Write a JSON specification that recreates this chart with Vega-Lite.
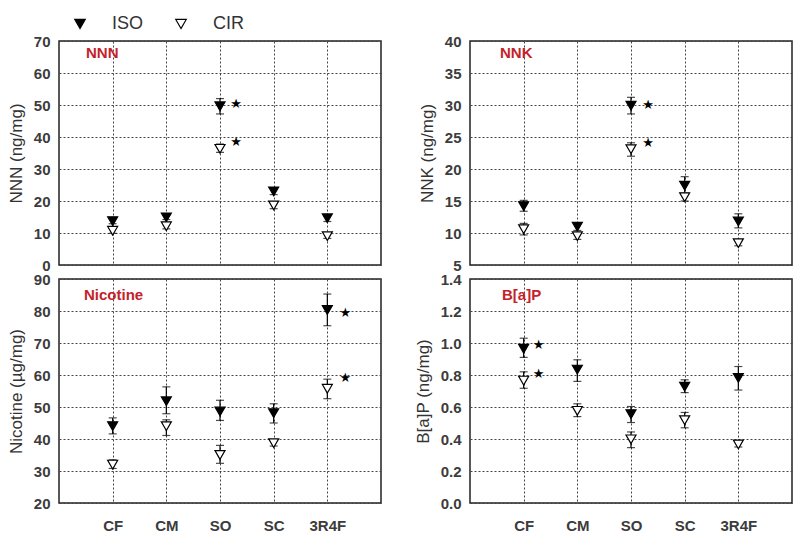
{
  "$schema": "https://vega.github.io/schema/vega-lite/v6.json",
  "padding": {"left": 6, "top": 15, "right": 3, "bottom": 5},
  "background": "white",
  "datasets": {
    "d": [
      {"panel": "NNN", "cat": "CF", "series": "ISO", "v": 13.7, "lo": 12.9, "hi": 14.5, "sy": null},
      {"panel": "NNN", "cat": "CF", "series": "CIR", "v": 10.7, "lo": 9.9, "hi": 11.5, "sy": null},
      {"panel": "NNN", "cat": "CM", "series": "ISO", "v": 14.9, "lo": 14.2, "hi": 15.6, "sy": null},
      {"panel": "NNN", "cat": "CM", "series": "CIR", "v": 12.1, "lo": 11.3, "hi": 13.0, "sy": null},
      {"panel": "NNN", "cat": "SO", "series": "ISO", "v": 49.6, "lo": 47.2, "hi": 52.0, "sy": 50.4},
      {"panel": "NNN", "cat": "SO", "series": "CIR", "v": 36.3, "lo": 35.2, "hi": 37.8, "sy": 38.3},
      {"panel": "NNN", "cat": "SC", "series": "ISO", "v": 23.0, "lo": 22.0, "hi": 24.0, "sy": null},
      {"panel": "NNN", "cat": "SC", "series": "CIR", "v": 18.6, "lo": 17.6, "hi": 19.7, "sy": null},
      {"panel": "NNN", "cat": "3R4F", "series": "ISO", "v": 14.6, "lo": 13.6, "hi": 15.6, "sy": null},
      {"panel": "NNN", "cat": "3R4F", "series": "CIR", "v": 9.0, "lo": 8.3, "hi": 9.8, "sy": null},
      {"panel": "NNK", "cat": "CF", "series": "ISO", "v": 14.2, "lo": 13.4, "hi": 15.1, "sy": null},
      {"panel": "NNK", "cat": "CF", "series": "CIR", "v": 10.6, "lo": 9.7, "hi": 11.5, "sy": null},
      {"panel": "NNK", "cat": "CM", "series": "ISO", "v": 11.0, "lo": 10.4, "hi": 11.6, "sy": null},
      {"panel": "NNK", "cat": "CM", "series": "CIR", "v": 9.5, "lo": 9.0, "hi": 10.0, "sy": null},
      {"panel": "NNK", "cat": "SO", "series": "ISO", "v": 29.9, "lo": 28.6, "hi": 31.2, "sy": 30.0},
      {"panel": "NNK", "cat": "SO", "series": "CIR", "v": 23.1, "lo": 22.0, "hi": 24.1, "sy": 24.0},
      {"panel": "NNK", "cat": "SC", "series": "ISO", "v": 17.4, "lo": 16.2, "hi": 18.8, "sy": null},
      {"panel": "NNK", "cat": "SC", "series": "CIR", "v": 15.6, "lo": 15.0, "hi": 16.2, "sy": null},
      {"panel": "NNK", "cat": "3R4F", "series": "ISO", "v": 11.8, "lo": 10.8, "hi": 13.0, "sy": null},
      {"panel": "NNK", "cat": "3R4F", "series": "CIR", "v": 8.4, "lo": 8.0, "hi": 8.8, "sy": null},
      {"panel": "Nicotine", "cat": "CF", "series": "ISO", "v": 44.0, "lo": 41.6, "hi": 46.6, "sy": null},
      {"panel": "Nicotine", "cat": "CF", "series": "CIR", "v": 32.0, "lo": 30.8, "hi": 33.5, "sy": null},
      {"panel": "Nicotine", "cat": "CM", "series": "ISO", "v": 51.8, "lo": 47.9, "hi": 56.3, "sy": null},
      {"panel": "Nicotine", "cat": "CM", "series": "CIR", "v": 44.0, "lo": 41.1, "hi": 46.0, "sy": null},
      {"panel": "Nicotine", "cat": "SO", "series": "ISO", "v": 48.6, "lo": 45.8, "hi": 52.1, "sy": null},
      {"panel": "Nicotine", "cat": "SO", "series": "CIR", "v": 35.0, "lo": 32.4, "hi": 38.0, "sy": null},
      {"panel": "Nicotine", "cat": "SC", "series": "ISO", "v": 48.1, "lo": 45.0, "hi": 51.0, "sy": null},
      {"panel": "Nicotine", "cat": "SC", "series": "CIR", "v": 38.7, "lo": 37.8, "hi": 39.6, "sy": null},
      {"panel": "Nicotine", "cat": "3R4F", "series": "ISO", "v": 80.3, "lo": 75.4, "hi": 85.3, "sy": 79.5},
      {"panel": "Nicotine", "cat": "3R4F", "series": "CIR", "v": 55.7, "lo": 52.6, "hi": 58.7, "sy": 59.0},
      {"panel": "B[a]P", "cat": "CF", "series": "ISO", "v": 0.964, "lo": 0.91, "hi": 1.03, "sy": 0.99},
      {"panel": "B[a]P", "cat": "CF", "series": "CIR", "v": 0.765, "lo": 0.717, "hi": 0.82, "sy": 0.805},
      {"panel": "B[a]P", "cat": "CM", "series": "ISO", "v": 0.834, "lo": 0.76, "hi": 0.895, "sy": null},
      {"panel": "B[a]P", "cat": "CM", "series": "CIR", "v": 0.576, "lo": 0.54, "hi": 0.62, "sy": null},
      {"panel": "B[a]P", "cat": "SO", "series": "ISO", "v": 0.555, "lo": 0.503, "hi": 0.603, "sy": null},
      {"panel": "B[a]P", "cat": "SO", "series": "CIR", "v": 0.398, "lo": 0.346, "hi": 0.444, "sy": null},
      {"panel": "B[a]P", "cat": "SC", "series": "ISO", "v": 0.727, "lo": 0.69, "hi": 0.77, "sy": null},
      {"panel": "B[a]P", "cat": "SC", "series": "CIR", "v": 0.518, "lo": 0.47, "hi": 0.566, "sy": null},
      {"panel": "B[a]P", "cat": "3R4F", "series": "ISO", "v": 0.782, "lo": 0.706, "hi": 0.853, "sy": null},
      {"panel": "B[a]P", "cat": "3R4F", "series": "CIR", "v": 0.366, "lo": 0.35, "hi": 0.387, "sy": null}
    ]
  },
  "data": {"name": "d"},
  "columns": 2,
  "spacing": {"row": -3, "column": 31},
  "concat": [
    {
      "width": 322, "height": 224,
      "title": {"text": "NNN", "anchor": "start", "frame": "group", "orient": "top", "offset": -27, "dx": 27},
      "transform": [{"filter": "datum.panel === 'NNN'"}],
      "encoding": {"x": {"field": "cat", "type": "ordinal", "sort": ["CF", "CM", "SO", "SC", "3R4F"], "scale": {"type": "point", "padding": 1}, "axis": {"title": null, "labels": false, "ticks": false}}},
      "layer": [
        {"mark": {"type": "rule", "color": "black", "strokeWidth": 1.2}, "encoding": {"y": {"field": "lo", "type": "quantitative", "scale": {"domain": [0, 70], "nice": false}, "axis": {"title": "NNN (ng/mg)", "values": [0, 10, 20, 30, 40, 50, 60, 70], "labelOverlap": false}}, "y2": {"field": "hi"}}},
        {"mark": {"type": "tick", "color": "black", "size": 8, "thickness": 1.2}, "encoding": {"y": {"field": "hi", "type": "quantitative", "axis": {"title": "NNN (ng/mg)", "values": [0, 10, 20, 30, 40, 50, 60, 70], "labelOverlap": false}}}},
        {"mark": {"type": "tick", "color": "black", "size": 8, "thickness": 1.2}, "encoding": {"y": {"field": "lo", "type": "quantitative", "axis": {"title": "NNN (ng/mg)", "values": [0, 10, 20, 30, 40, 50, 60, 70], "labelOverlap": false}}}},
        {"mark": {"type": "point", "shape": "triangle-down", "size": 100, "filled": true, "stroke": "black", "strokeWidth": 1.2, "opacity": 1}, "encoding": {"y": {"field": "v", "type": "quantitative", "axis": {"title": "NNN (ng/mg)", "values": [0, 10, 20, 30, 40, 50, 60, 70], "labelOverlap": false}}, "fill": {"field": "series", "type": "nominal", "scale": {"domain": ["ISO", "CIR"], "range": ["black", "white"]}, "legend": {"title": null, "orient": "none", "legendX": 12, "legendY": -26, "direction": "horizontal", "symbolType": "triangle-down", "symbolStrokeColor": "black", "symbolStrokeWidth": 1.2, "symbolSize": 110, "labelFontSize": 18, "labelFont": "Liberation Sans", "labelColor": "#333", "columnPadding": 28, "labelOffset": 23}}}},
        {"transform": [{"filter": "datum.sy != null"}], "mark": {"type": "text", "text": "★", "dx": 16, "fontSize": 13, "color": "black", "font": "DejaVu Sans"}, "encoding": {"y": {"field": "sy", "type": "quantitative", "axis": {"title": "NNN (ng/mg)", "values": [0, 10, 20, 30, 40, 50, 60, 70], "labelOverlap": false}}}}
      ]
    },
    {
      "width": 322, "height": 224,
      "title": {"text": "NNK", "anchor": "start", "frame": "group", "orient": "top", "offset": -27, "dx": 30},
      "transform": [{"filter": "datum.panel === 'NNK'"}],
      "encoding": {"x": {"field": "cat", "type": "ordinal", "sort": ["CF", "CM", "SO", "SC", "3R4F"], "scale": {"type": "point", "padding": 1}, "axis": {"title": null, "labels": false, "ticks": false}}},
      "layer": [
        {"mark": {"type": "rule", "color": "black", "strokeWidth": 1.2}, "encoding": {"y": {"field": "lo", "type": "quantitative", "scale": {"domain": [5, 40], "nice": false}, "axis": {"title": "NNK (ng/mg)", "values": [5, 10, 15, 20, 25, 30, 35, 40], "labelOverlap": false}}, "y2": {"field": "hi"}}},
        {"mark": {"type": "tick", "color": "black", "size": 8, "thickness": 1.2}, "encoding": {"y": {"field": "hi", "type": "quantitative", "axis": {"title": "NNK (ng/mg)", "values": [5, 10, 15, 20, 25, 30, 35, 40], "labelOverlap": false}}}},
        {"mark": {"type": "tick", "color": "black", "size": 8, "thickness": 1.2}, "encoding": {"y": {"field": "lo", "type": "quantitative", "axis": {"title": "NNK (ng/mg)", "values": [5, 10, 15, 20, 25, 30, 35, 40], "labelOverlap": false}}}},
        {"mark": {"type": "point", "shape": "triangle-down", "size": 100, "filled": true, "stroke": "black", "strokeWidth": 1.2, "opacity": 1}, "encoding": {"y": {"field": "v", "type": "quantitative", "axis": {"title": "NNK (ng/mg)", "values": [5, 10, 15, 20, 25, 30, 35, 40], "labelOverlap": false}}, "fill": {"field": "series", "type": "nominal", "scale": {"domain": ["ISO", "CIR"], "range": ["black", "white"]}}}},
        {"transform": [{"filter": "datum.sy != null"}], "mark": {"type": "text", "text": "★", "dx": 17, "fontSize": 13, "color": "black", "font": "DejaVu Sans"}, "encoding": {"y": {"field": "sy", "type": "quantitative", "axis": {"title": "NNK (ng/mg)", "values": [5, 10, 15, 20, 25, 30, 35, 40], "labelOverlap": false}}}}
      ]
    },
    {
      "width": 322, "height": 224,
      "title": {"text": "Nicotine", "anchor": "start", "frame": "group", "orient": "top", "offset": -31, "dx": 25},
      "transform": [{"filter": "datum.panel === 'Nicotine'"}],
      "encoding": {"x": {"field": "cat", "type": "ordinal", "sort": ["CF", "CM", "SO", "SC", "3R4F"], "scale": {"type": "point", "padding": 1}, "axis": {"title": null, "labelAngle": 0, "labelPadding": 15, "ticks": false}}},
      "layer": [
        {"mark": {"type": "rule", "color": "black", "strokeWidth": 1.2}, "encoding": {"y": {"field": "lo", "type": "quantitative", "scale": {"domain": [20, 90], "nice": false}, "axis": {"title": "Nicotine (µg/mg)", "values": [20, 30, 40, 50, 60, 70, 80, 90], "labelOverlap": false}}, "y2": {"field": "hi"}}},
        {"mark": {"type": "tick", "color": "black", "size": 8, "thickness": 1.2}, "encoding": {"y": {"field": "hi", "type": "quantitative", "axis": {"title": "Nicotine (µg/mg)", "values": [20, 30, 40, 50, 60, 70, 80, 90], "labelOverlap": false}}}},
        {"mark": {"type": "tick", "color": "black", "size": 8, "thickness": 1.2}, "encoding": {"y": {"field": "lo", "type": "quantitative", "axis": {"title": "Nicotine (µg/mg)", "values": [20, 30, 40, 50, 60, 70, 80, 90], "labelOverlap": false}}}},
        {"mark": {"type": "point", "shape": "triangle-down", "size": 100, "filled": true, "stroke": "black", "strokeWidth": 1.2, "opacity": 1}, "encoding": {"y": {"field": "v", "type": "quantitative", "axis": {"title": "Nicotine (µg/mg)", "values": [20, 30, 40, 50, 60, 70, 80, 90], "labelOverlap": false}}, "fill": {"field": "series", "type": "nominal", "scale": {"domain": ["ISO", "CIR"], "range": ["black", "white"]}}}},
        {"transform": [{"filter": "datum.sy != null"}], "mark": {"type": "text", "text": "★", "dx": 18, "fontSize": 13, "color": "black", "font": "DejaVu Sans"}, "encoding": {"y": {"field": "sy", "type": "quantitative", "axis": {"title": "Nicotine (µg/mg)", "values": [20, 30, 40, 50, 60, 70, 80, 90], "labelOverlap": false}}}}
      ]
    },
    {
      "width": 322, "height": 224,
      "title": {"text": "B[a]P", "anchor": "start", "frame": "group", "orient": "top", "offset": -31, "dx": 32},
      "transform": [{"filter": "datum.panel === 'B[a]P'"}],
      "encoding": {"x": {"field": "cat", "type": "ordinal", "sort": ["CF", "CM", "SO", "SC", "3R4F"], "scale": {"type": "point", "padding": 1}, "axis": {"title": null, "labelAngle": 0, "labelPadding": 15, "ticks": false}}},
      "layer": [
        {"mark": {"type": "rule", "color": "black", "strokeWidth": 1.2}, "encoding": {"y": {"field": "lo", "type": "quantitative", "scale": {"domain": [0, 1.4], "nice": false}, "axis": {"title": "B[a]P (ng/mg)", "format": ".1f", "values": [0, 0.2, 0.4, 0.6, 0.8, 1.0, 1.2, 1.4], "labelOverlap": false}}, "y2": {"field": "hi"}}},
        {"mark": {"type": "tick", "color": "black", "size": 8, "thickness": 1.2}, "encoding": {"y": {"field": "hi", "type": "quantitative", "axis": {"title": "B[a]P (ng/mg)", "format": ".1f", "values": [0, 0.2, 0.4, 0.6, 0.8, 1.0, 1.2, 1.4], "labelOverlap": false}}}},
        {"mark": {"type": "tick", "color": "black", "size": 8, "thickness": 1.2}, "encoding": {"y": {"field": "lo", "type": "quantitative", "axis": {"title": "B[a]P (ng/mg)", "format": ".1f", "values": [0, 0.2, 0.4, 0.6, 0.8, 1.0, 1.2, 1.4], "labelOverlap": false}}}},
        {"mark": {"type": "point", "shape": "triangle-down", "size": 100, "filled": true, "stroke": "black", "strokeWidth": 1.2, "opacity": 1}, "encoding": {"y": {"field": "v", "type": "quantitative", "axis": {"title": "B[a]P (ng/mg)", "format": ".1f", "values": [0, 0.2, 0.4, 0.6, 0.8, 1.0, 1.2, 1.4], "labelOverlap": false}}, "fill": {"field": "series", "type": "nominal", "scale": {"domain": ["ISO", "CIR"], "range": ["black", "white"]}}}},
        {"transform": [{"filter": "datum.sy != null"}], "mark": {"type": "text", "text": "★", "dx": 15, "fontSize": 13, "color": "black", "font": "DejaVu Sans"}, "encoding": {"y": {"field": "sy", "type": "quantitative", "axis": {"title": "B[a]P (ng/mg)", "format": ".1f", "values": [0, 0.2, 0.4, 0.6, 0.8, 1.0, 1.2, 1.4], "labelOverlap": false}}}}
      ]
    }
  ],
  "config": {
    "font": "Liberation Sans",
    "view": {"stroke": "#222", "strokeWidth": 1.5},
    "title": {"color": "#c42229", "fontSize": 15, "fontWeight": "bold", "font": "Liberation Sans"},
    "axis": {
      "grid": true,
      "gridColor": "#444",
      "gridDash": [2, 2],
      "gridWidth": 1,
      "domain": false,
      "ticks": false,
      "labelOverlap": false,
      "labelFlush": false,
      "labelFont": "Liberation Sans",
      "labelFontSize": 15,
      "labelFontWeight": "bold",
      "labelColor": "#3c3c3c",
      "labelPadding": 9,
      "titleFont": "Liberation Sans",
      "titleFontSize": 17,
      "titleFontWeight": "normal",
      "titleColor": "#333",
      "titlePadding": 8
    }
  }
}
